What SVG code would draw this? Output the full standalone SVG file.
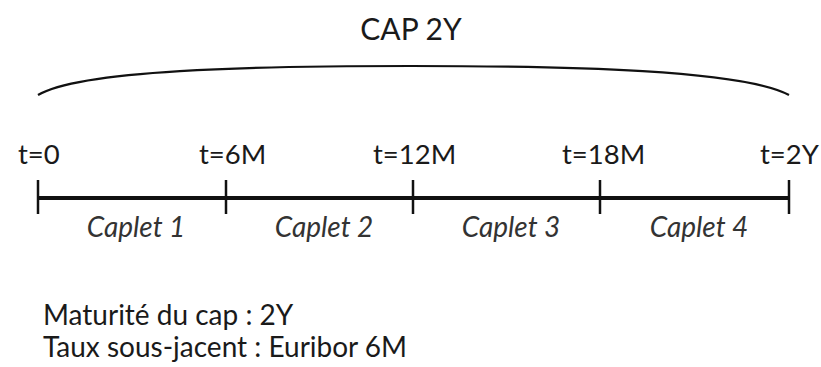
<svg xmlns="http://www.w3.org/2000/svg" width="821" height="367" viewBox="0 0 821 367">
<style>
text{font-family:Lato,"Open Sans","Liberation Sans",sans-serif;fill:#1a1a1a}
.t{font-size:27.5px}
.c{font-size:28px;font-style:italic;text-anchor:middle;fill:#333}
.b{font-size:28px}
.ax{stroke:#111;fill:none}
</style>
<rect width="821" height="367" fill="#fff"/>
<text x="411" y="40" font-size="30" text-anchor="middle">CAP 2Y</text>
<g id="connectors">
<path class="ax" stroke-width="2.2" d="M38,95 C80,70 250,66 411,66 C572,66 742,70 789,95"/>
<line class="ax" stroke-width="4" x1="38" y1="198" x2="789" y2="198"/>
</g>
<g id="t0"><line class="ax" stroke-width="2.5" x1="38" y1="180" x2="38" y2="214"/><text class="t" x="18" y="164">t=0</text></g>
<g id="t6M"><line class="ax" stroke-width="2.5" x1="226" y1="180" x2="226" y2="214"/><text class="t" x="199" y="164">t=6M</text></g>
<g id="t12M"><line class="ax" stroke-width="2.5" x1="413" y1="180" x2="413" y2="214"/><text class="t" x="373" y="164">t=12M</text></g>
<g id="t18M"><line class="ax" stroke-width="2.5" x1="600" y1="180" x2="600" y2="214"/><text class="t" x="562" y="164">t=18M</text></g>
<g id="t2Y"><line class="ax" stroke-width="2.5" x1="789" y1="180" x2="789" y2="214"/><text class="t" x="760" y="164">t=2Y</text></g>
<g id="caplet1"><text class="c" x="136" y="237">Caplet 1</text></g>
<g id="caplet2"><text class="c" x="324" y="237">Caplet 2</text></g>
<g id="caplet3"><text class="c" x="511" y="237">Caplet 3</text></g>
<g id="caplet4"><text class="c" x="699" y="237">Caplet 4</text></g>
<g id="legend">
<text class="b" x="43" y="325">Maturité du cap : 2Y</text>
<text class="b" x="43" y="357">Taux sous-jacent : Euribor 6M</text>
</g>
</svg>
